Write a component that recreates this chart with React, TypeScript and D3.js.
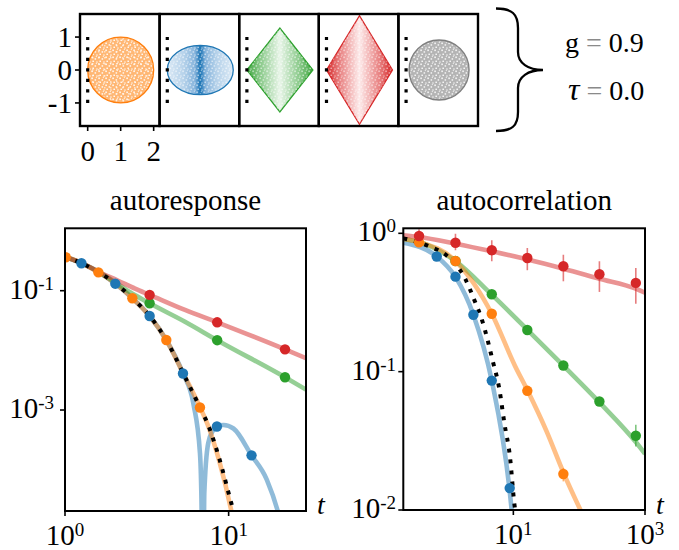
import React from "react";
import * as d3 from "d3";

const FONT = "'Liberation Serif', 'DejaVu Serif', 'Times New Roman', serif";
const W = 679;
const H = 550;

// ---------------- top: shape panels ----------------
const shapeKinds = ["circle", "ellipse", "diamond", "diamond", "circle"];
const shapeHalfWidth = [1, 1, 1, 1, 0.91];
const shapeHalfHeight = [1, 0.75, 1.27, 1.65, 0.91];
const shapeCenterX = [1, 1, 1, 1, 1.0];
const shapeStroke = ["#ff7f0e", "#1f77b4", "#2ca02c", "#d62728", "#808080"];
const shapeFill = ["url(#fillOrange)", "url(#gradBlue)", "url(#gradGreen)", "url(#gradRed)", "#b4b4b4"];
const speckleOpacity = [0.9, 0.55, 0.55, 0.5, 0.85];
const panelYTicks = [1, 0, -1];
const panelXTicks = [0, 1, 2];
const guideSpan = [-1, 1];
const paramSymbols = ["g", "τ"];
const paramValues = ["0.9", "0.0"];

// ---------------- autoresponse (left) ----------------
const arOrangeT = [1.01, 1.6, 2.58, 4.16, 6.68];
const arOrangeV = [0.363, 0.203, 0.0746, 0.0149, 0.0011];
const arBlueT = [1.26, 2.03, 3.29, 5.26, 8.48, 13.8];
const arBlueV = [0.288, 0.131, 0.0377, 0.0041, 0.00053, 0.000174];
const arGreenT = [3.29, 8.51, 22.1];
const arGreenV = [0.0615, 0.0148, 0.00354];
const arRedT = [3.29, 8.51, 22.1];
const arRedV = [0.085, 0.0295, 0.0104];

const arTheory: number[][] = [
  [1, 0.37], [1.26, 0.29], [1.6, 0.205], [2.03, 0.132], [2.58, 0.075], [3.29, 0.0377],
  [4.16, 0.0149], [5.26, 0.0042], [6.68, 0.0011], [7.5, 0.00056], [8.76, 0.000155],
  [10.4, 0.000027], [10.9, 0.000017],
];
const arOrangeLine: number[][] = [
  [1, 0.37], [1.26, 0.29], [1.6, 0.203], [2.03, 0.132], [2.58, 0.0746], [3.29, 0.0375],
  [4.16, 0.0149], [5.26, 0.0042], [6.68, 0.00112], [7.5, 0.00054], [8.76, 0.00014],
  [10.4, 0.00002], [10.8, 0.000012],
];
const arBlueLine: number[][] = [
  [1, 0.37], [1.26, 0.288], [1.6, 0.205], [2.03, 0.131], [2.58, 0.075], [3.29, 0.0377],
  [4.16, 0.0149], [5.26, 0.0041], [6.08, 0.0013], [6.68, 0.00019], [6.84, 0.00002],
  [6.92, 0.000001], [7.0, 0.000001], [7.1, 0.00004], [7.5, 0.000277], [8.05, 0.00046],
  [8.5, 0.00054], [9.3, 0.00056], [10.7, 0.00049], [13.8, 0.000174], [17.1, 0.000068],
  [20.5, 0.000015], [21.5, 0.000008],
];
const arGreenLine: number[][] = [
  [1, 0.37], [1.3, 0.28], [1.65, 0.198], [2.1, 0.13], [2.5, 0.094], [3.29, 0.0615],
  [5.41, 0.0302], [8.51, 0.0148], [22.1, 0.00354], [29.7, 0.0022],
];
const arRedLine: number[][] = [
  [1, 0.37], [1.3, 0.28], [1.65, 0.2], [2.1, 0.148], [2.68, 0.108], [3.29, 0.085],
  [5.41, 0.0475], [8.51, 0.0295], [22.1, 0.0104], [29.7, 0.0074],
];
const arXTicks = [1, 10];
const arXTickExp = ["0", "1"];
const arYTicks = [0.1, 0.001];
const arYTickExp = ["-1", "-3"];

// ---------------- autocorrelation (right) ----------------
const acRedT = [0.369, 1.32, 4.7, 16.3, 57.5, 203, 725];
const acRedV = [0.956, 0.855, 0.754, 0.663, 0.578, 0.506, 0.438];
const acRedLo = [0.855, 0.754, 0.628, 0.541, 0.45, 0.377, 0.31];
const acRedHi = [1.069, 0.993, 0.89, 0.783, 0.70, 0.628, 0.562];
const acGreenT = [1.32, 4.7, 16.3, 57.5, 203, 725];
const acGreenV = [0.631, 0.3625, 0.2, 0.1107, 0.0608, 0.0344];
const acGreenLo = [0.62, 0.355, 0.195, 0.107, 0.058, 0.0288];
const acGreenHi = [0.64, 0.37, 0.205, 0.114, 0.064, 0.0413];
const acOrangeT = [0.369, 1.32, 4.7, 16.3, 57.5];
const acOrangeV = [0.861, 0.631, 0.262, 0.0727, 0.0182];
const acOrangeLo = [0.85, 0.62, 0.256, 0.07, 0.0161];
const acOrangeHi = [0.87, 0.64, 0.268, 0.0755, 0.0201];
const acBlueT = [0.685, 1.32, 2.47, 4.7, 8.8];
const acBlueV = [0.68, 0.486, 0.258, 0.0862, 0.0144];

const acTheory: number[][] = [
  [0.213, 0.92], [0.54, 0.8], [0.97, 0.69], [1.85, 0.47], [2.55, 0.33], [3.38, 0.232],
  [4.85, 0.12], [6.12, 0.075], [7.3, 0.0425], [8.9, 0.024], [10.35, 0.0111], [10.8, 0.0095],
];
const acBlueLine: number[][] = [
  [0.213, 0.855], [0.685, 0.68], [1.32, 0.484], [2.47, 0.258], [4.7, 0.086], [8.7, 0.0144],
  [9.6, 0.0092],
];
const acOrangeLine: number[][] = [
  [0.213, 0.91], [0.369, 0.865], [1.32, 0.63], [4.7, 0.262], [10.6, 0.11], [16.5, 0.0727],
  [32, 0.037], [58, 0.0185], [110, 0.0095],
];
const acGreenLine: number[][] = [
  [0.213, 0.91], [0.369, 0.865], [1.32, 0.63], [4.7, 0.36], [16.5, 0.2], [58, 0.11],
  [203, 0.06], [725, 0.031], [1000, 0.0255],
];
const acRedLine: number[][] = [
  [0.213, 0.967], [0.369, 0.94], [1.32, 0.841], [4.7, 0.741], [16.0, 0.649], [57.5, 0.555],
  [203, 0.47], [725, 0.398], [1000, 0.372],
];
const acXTicks = [10, 1000];
const acXTickExp = ["1", "3"];
const acYTicks = [1, 0.1, 0.01];
const acYTickExp = ["0", "-1", "-2"];

const C = { blue: "#1f77b4", orange: "#ff7f0e", green: "#2ca02c", red: "#d62728" };

type Series = { t: number[]; v: number[]; color: string; lo?: number[]; hi?: number[] };

function Pow10({ x, y, exp, anchor }: { x: number; y: number; exp: string; anchor: string }) {
  return (
    <text x={x} y={y} textAnchor={anchor} fontFamily={FONT} fontSize={29} fill="#000">
      10<tspan dy={-9} fontSize={19}>{exp}</tspan>
    </text>
  );
}

function LogChart(props: {
  id: string;
  title: string;
  xs: d3.ScaleLogarithmic<number, number>;
  ys: d3.ScaleLogarithmic<number, number>;
  lines: { data: number[][]; color: string }[];
  theory: number[][];
  markers: Series[];
  xTicks: number[];
  xExp: string[];
  yTicks: number[];
  yExp: string[];
  yLabelX: number;
}) {
  const { id, title, xs, ys, lines, theory, markers, xTicks, xExp, yTicks, yExp, yLabelX } = props;
  const [x0, x1] = xs.range();
  const [y0, y1] = ys.range();
  const gen = d3
    .line<number[]>()
    .x((d) => xs(d[0]))
    .y((d) => ys(d[1]))
    .curve(d3.curveMonotoneX);
  return (
    <g>
      <defs>
        <clipPath id={id}>
          <rect x={x0} y={y1} width={x1 - x0} height={y0 - y1} />
        </clipPath>
      </defs>
      <text x={(x0 + x1) / 2} y={210} textAnchor="middle" fontFamily={FONT} fontSize={29}>
        {title}
      </text>
      <g clipPath={`url(#${id})`}>
        {lines.map((l, i) => (
          <path key={i} d={gen(l.data) || ""} fill="none" stroke={l.color} strokeOpacity={0.5} strokeWidth={4.6} />
        ))}
        <path d={gen(theory) || ""} fill="none" stroke="#000" strokeWidth={4} strokeDasharray="4 7" />
        {markers.map((s, i) =>
          s.lo ? (
            <g key={"e" + i}>
              {s.t.map((t, j) => (
                <line
                  key={j}
                  x1={xs(t)}
                  x2={xs(t)}
                  y1={ys(s.lo![j])}
                  y2={ys(s.hi![j])}
                  stroke={s.color}
                  strokeOpacity={0.6}
                  strokeWidth={1.6}
                />
              ))}
            </g>
          ) : null
        )}
        {markers.map((s, i) => (
          <g key={"m" + i}>
            {s.t.map((t, j) => (
              <circle key={j} cx={xs(t)} cy={ys(s.v[j])} r={5.2} fill={s.color} />
            ))}
          </g>
        ))}
      </g>
      <rect x={x0} y={y1} width={x1 - x0} height={y0 - y1} fill="none" stroke="#000" strokeWidth={2} />
      {xTicks.map((t, i) => (
        <g key={"xt" + i}>
          <line x1={xs(t)} x2={xs(t)} y1={y0} y2={y0 + 5} stroke="#000" strokeWidth={1.6} />
          <Pow10 x={xs(t)} y={y0 + 34} exp={xExp[i]} anchor="middle" />
        </g>
      ))}
      {yTicks.map((t, i) => (
        <g key={"yt" + i}>
          <line x1={x0 - 5} x2={x0} y1={ys(t)} y2={ys(t)} stroke="#000" strokeWidth={1.6} />
          <Pow10 x={yLabelX} y={ys(t) + 8} exp={yExp[i]} anchor="end" />
        </g>
      ))}
      <text x={x1 + 11} y={514} fontFamily={FONT} fontStyle="italic" fontSize={28}>
        t
      </text>
    </g>
  );
}

function ShapePanels() {
  const top = 14;
  const bottom = 126;
  const left0 = 80;
  const pw = 79.6;
  const ys = d3.scaleLinear().domain([-1.7, 1.7]).range([bottom, top]);
  const panels = shapeKinds.map((kind, i) => {
    const xs = d3.scaleLinear().domain([-0.233, 2.18]).range([left0 + i * pw, left0 + (i + 1) * pw]);
    const cx = shapeCenterX[i];
    const hw = shapeHalfWidth[i];
    const hh = shapeHalfHeight[i];
    let shape: JSX.Element;
    let overlay: JSX.Element;
    if (kind === "diamond") {
      const pts = [
        [cx - hw, 0],
        [cx, hh],
        [cx + hw, 0],
        [cx, -hh],
      ]
        .map((p) => `${xs(p[0])},${ys(p[1])}`)
        .join(" ");
      shape = <polygon points={pts} fill={shapeFill[i]} stroke={shapeStroke[i]} strokeWidth={1.3} />;
      overlay = <polygon points={pts} fill="url(#speck)" opacity={speckleOpacity[i]} />;
    } else {
      const rx = xs(cx + hw) - xs(cx);
      const ry = ys(0) - ys(hh);
      shape = (
        <ellipse cx={xs(cx)} cy={ys(0)} rx={rx} ry={ry} fill={shapeFill[i]} stroke={shapeStroke[i]} strokeWidth={1.3} />
      );
      overlay = <ellipse cx={xs(cx)} cy={ys(0)} rx={rx - 1} ry={ry - 1} fill="url(#speck)" opacity={speckleOpacity[i]} />;
    }
    return (
      <g key={i}>
        {shape}
        {overlay}
        <line
          x1={xs(0)}
          x2={xs(0)}
          y1={ys(guideSpan[0])}
          y2={ys(guideSpan[1])}
          stroke="#000"
          strokeWidth={3.2}
          strokeDasharray="3.2 7.3"
        />
        <rect x={left0 + i * pw} y={top} width={pw} height={bottom - top} fill="none" stroke="#000" strokeWidth={2.4} />
      </g>
    );
  });
  const xs0 = d3.scaleLinear().domain([-0.233, 2.18]).range([left0, left0 + pw]);
  return (
    <g>
      {panels}
      {panelYTicks.map((t) => (
        <g key={"py" + t}>
          <line x1={left0 - 5} x2={left0} y1={ys(t)} y2={ys(t)} stroke="#000" strokeWidth={1.6} />
          <text x={72} y={ys(t) + 10} textAnchor="end" fontFamily={FONT} fontSize={29}>
            {t < 0 ? "-" + Math.abs(t) : String(t)}
          </text>
        </g>
      ))}
      {panelXTicks.map((t) => (
        <g key={"px" + t}>
          <line x1={xs0(t)} x2={xs0(t)} y1={bottom} y2={bottom + 5} stroke="#000" strokeWidth={1.6} />
          <text x={xs0(t)} y={161} textAnchor="middle" fontFamily={FONT} fontSize={29}>
            {String(t)}
          </text>
        </g>
      ))}
      <path
        d="M496,8.5 C512,8.5 518,14 518,28 L518,52 C518,63 528,70 543,70 C528,70 518,77 518,88 L518,112 C518,126 512,131 496,131"
        fill="none"
        stroke="#000"
        strokeWidth={2.3}
      />
      {paramSymbols.map((s, i) => (
        <text key={s} x={i === 0 ? 565 : 568} y={i === 0 ? 52 : 100} fontFamily={FONT} fontSize={28}>
          <tspan fontStyle={i === 1 ? "italic" : "normal"} fontSize={i === 1 ? 32 : 28}>{s}</tspan>
          <tspan fill="#8a8a8a"> = </tspan>
          {paramValues[i]}
        </text>
      ))}
    </g>
  );
}

export default function App() {
  const LX = d3.scaleLog().domain([1, 29.7]).range([65, 306]);
  const LY = d3.scaleLog().domain([2.03e-5, 1.111]).range([511, 228.3]);
  const RX = d3.scaleLog().domain([0.2128, 1000]).range([403.3, 645]);
  const RY = d3.scaleLog().domain([0.01, 1.087]).range([510, 228.3]);

  return (
    <svg
      width={W}
      height={H}
      viewBox={`0 0 ${W} ${H}`}
      style={{ position: "absolute", left: 0, top: 0, background: "#fff" }}
    >
      <defs>
        <pattern id="speck" width="7" height="7" patternUnits="userSpaceOnUse">
          <rect x="0.3" y="0.5" width="1.6" height="1.6" fill="#fff" />
          <rect x="3.6" y="2.2" width="1.5" height="1.5" fill="#fff" />
          <rect x="1.4" y="4.6" width="1.6" height="1.4" fill="#fff" />
          <rect x="5.3" y="5.4" width="1.3" height="1.3" fill="#fff" />
          <rect x="4.8" y="0.1" width="1" height="1" fill="#fff" />
        </pattern>
        <pattern id="fillOrange" width="6" height="6" patternUnits="userSpaceOnUse">
          <rect width="6" height="6" fill="#ffb774" />
          <rect x="2" y="3" width="1.5" height="1.5" fill="#ffe2c6" />
        </pattern>
        <linearGradient id="gradBlue" x1="0" x2="1" y1="0" y2="0">
          <stop offset="0%" stopColor="#dbe9f5" />
          <stop offset="25%" stopColor="#b6d2ea" />
          <stop offset="42%" stopColor="#86b4dc" />
          <stop offset="48%" stopColor="#2f80bd" />
          <stop offset="50%" stopColor="#1f77b4" />
          <stop offset="52%" stopColor="#2f80bd" />
          <stop offset="58%" stopColor="#86b4dc" />
          <stop offset="75%" stopColor="#b6d2ea" />
          <stop offset="100%" stopColor="#dbe9f5" />
        </linearGradient>
        <linearGradient id="gradGreen" x1="0" x2="1" y1="0" y2="0">
          <stop offset="0%" stopColor="#45a845" />
          <stop offset="22%" stopColor="#8fcc8f" />
          <stop offset="50%" stopColor="#e8f5e8" />
          <stop offset="78%" stopColor="#8fcc8f" />
          <stop offset="100%" stopColor="#45a845" />
        </linearGradient>
        <linearGradient id="gradRed" x1="0" x2="1" y1="0" y2="0">
          <stop offset="0%" stopColor="#d62728" />
          <stop offset="18%" stopColor="#e77a7a" />
          <stop offset="50%" stopColor="#fdeaea" />
          <stop offset="82%" stopColor="#e77a7a" />
          <stop offset="100%" stopColor="#d62728" />
        </linearGradient>
      </defs>
      <rect x={0} y={0} width={W} height={H} fill="#fff" />
      <ShapePanels />
      <LogChart
        id="clipL"
        title="autoresponse"
        xs={LX}
        ys={LY}
        lines={[
          { data: arBlueLine, color: C.blue },
          { data: arOrangeLine, color: C.orange },
          { data: arGreenLine, color: C.green },
          { data: arRedLine, color: C.red },
        ]}
        theory={arTheory}
        markers={[
          { t: arGreenT, v: arGreenV, color: C.green },
          { t: arRedT, v: arRedV, color: C.red },
          { t: arOrangeT, v: arOrangeV, color: C.orange },
          { t: arBlueT, v: arBlueV, color: C.blue },
        ]}
        xTicks={arXTicks}
        xExp={arXTickExp}
        yTicks={arYTicks}
        yExp={arYTickExp}
        yLabelX={54}
      />
      <LogChart
        id="clipR"
        title="autocorrelation"
        xs={RX}
        ys={RY}
        lines={[
          { data: acBlueLine, color: C.blue },
          { data: acGreenLine, color: C.green },
          { data: acOrangeLine, color: C.orange },
          { data: acRedLine, color: C.red },
        ]}
        theory={acTheory}
        markers={[
          { t: acGreenT, v: acGreenV, color: C.green, lo: acGreenLo, hi: acGreenHi },
          { t: acOrangeT, v: acOrangeV, color: C.orange, lo: acOrangeLo, hi: acOrangeHi },
          { t: acBlueT, v: acBlueV, color: C.blue },
          { t: acRedT, v: acRedV, color: C.red, lo: acRedLo, hi: acRedHi },
        ]}
        xTicks={acXTicks}
        xExp={acXTickExp}
        yTicks={acYTicks}
        yExp={acYTickExp}
        yLabelX={396}
      />
    </svg>
  );
}
